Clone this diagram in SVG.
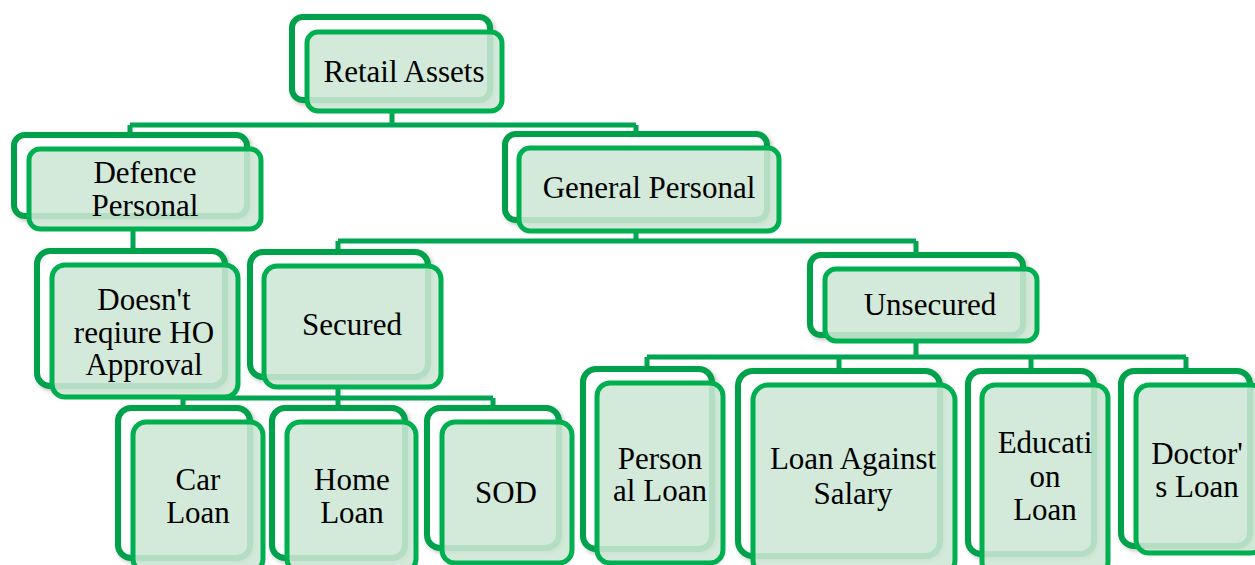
<svg xmlns="http://www.w3.org/2000/svg" width="1255" height="565" viewBox="0 0 1255 565">
<defs>
<filter id="sh" x="-10%" y="-10%" width="130%" height="130%">
<feDropShadow dx="2" dy="2" stdDeviation="2" flood-color="#000" flood-opacity="0.25"/>
</filter>
</defs>
<style>
.back{fill:#ffffff;stroke:#00A14B;stroke-width:6;filter:url(#sh)}
.front{fill:#CDE6D4;fill-opacity:0.88;stroke:#00B050;stroke-width:5}
.lbl{font-family:"Liberation Serif","Times New Roman",serif;font-size:31px;fill:#000;text-anchor:middle}
.conn{stroke:#00A651;stroke-width:5;fill:none}
</style>
<rect width="1255" height="565" fill="#ffffff"/>
<g id="connectors">
<path class="conn" d="M392 111V125M130 125H636M130 125V136M636 125V135"/>
<path class="conn" d="M133 229V252"/>
<path class="conn" d="M636 231V241M338 241H916M338 241V253M916 241V256"/>
<path class="conn" d="M338 387V398M183 398H493M183 398V409M338 398V409M493 398V409"/>
<path class="conn" d="M916 340V357M647 357H1186M647 357V370M839 357V372M1031 357V372M1186 357V372"/>
</g>
<g id="retail-assets">
<rect class="back" x="292" y="17" width="198" height="83" rx="11"/>
<rect class="front" x="307" y="32" width="195" height="79" rx="11"/>
<text class="lbl" x="404" y="82">Retail Assets</text>
</g>
<g id="defence-personal">
<rect class="back" x="14" y="135" width="233" height="81" rx="11"/>
<rect class="front" x="29" y="149" width="232" height="80" rx="11"/>
<text class="lbl" x="145" y="183">Defence</text>
<text class="lbl" x="145" y="216">Personal</text>
</g>
<g id="general-personal">
<rect class="back" x="505" y="134" width="262" height="86" rx="11"/>
<rect class="front" x="519" y="148" width="260" height="83" rx="11"/>
<text class="lbl" x="649" y="198">General Personal</text>
</g>
<g id="no-ho-approval">
<rect class="back" x="37" y="251" width="188" height="135" rx="13"/>
<rect class="front" x="52" y="265" width="186" height="132" rx="13"/>
<text class="lbl" x="144" y="310">Doesn't</text>
<text class="lbl" x="144" y="343">reqiure HO</text>
<text class="lbl" x="144" y="375">Approval</text>
</g>
<g id="secured">
<rect class="back" x="250" y="252" width="178" height="125" rx="13"/>
<rect class="front" x="264" y="266" width="177" height="121" rx="13"/>
<text class="lbl" x="352" y="335">Secured</text>
</g>
<g id="unsecured">
<rect class="back" x="810" y="255" width="213" height="80" rx="11"/>
<rect class="front" x="825" y="269" width="212" height="72" rx="11"/>
<text class="lbl" x="930" y="315">Unsecured</text>
</g>
<g id="car-loan">
<rect class="back" x="118" y="408" width="132" height="150" rx="13"/>
<rect class="front" x="133" y="422" width="130" height="150" rx="13"/>
<text class="lbl" x="198" y="490">Car</text>
<text class="lbl" x="198" y="523">Loan</text>
</g>
<g id="home-loan">
<rect class="back" x="272" y="408" width="133" height="150" rx="13"/>
<rect class="front" x="287" y="422" width="129" height="150" rx="13"/>
<text class="lbl" x="352" y="490">Home</text>
<text class="lbl" x="352" y="523">Loan</text>
</g>
<g id="sod">
<rect class="back" x="427" y="408" width="132" height="140" rx="13"/>
<rect class="front" x="442" y="422" width="130" height="141" rx="13"/>
<text class="lbl" x="506" y="503">SOD</text>
</g>
<g id="personal-loan">
<rect class="back" x="583" y="369" width="129" height="180" rx="13"/>
<rect class="front" x="597" y="383" width="126" height="180" rx="13"/>
<text class="lbl" x="660" y="469">Person</text>
<text class="lbl" x="660" y="501">al Loan</text>
</g>
<g id="loan-against-salary">
<rect class="back" x="738" y="371" width="202" height="185" rx="15"/>
<rect class="front" x="753" y="385" width="202" height="190" rx="15"/>
<text class="lbl" x="853" y="469">Loan Against</text>
<text class="lbl" x="853" y="504">Salary</text>
</g>
<g id="education-loan">
<rect class="back" x="968" y="371" width="126" height="183" rx="13"/>
<rect class="front" x="982" y="385" width="126" height="190" rx="13"/>
<text class="lbl" x="1045" y="453">Educati</text>
<text class="lbl" x="1045" y="487">on</text>
<text class="lbl" x="1045" y="520">Loan</text>
</g>
<g id="doctors-loan">
<rect class="back" x="1121" y="371" width="129" height="175" rx="13"/>
<rect class="front" x="1136" y="385" width="128" height="168" rx="13"/>
<text class="lbl" x="1197" y="464">Doctor'</text>
<text class="lbl" x="1197" y="497">s Loan</text>
</g>
</svg>
